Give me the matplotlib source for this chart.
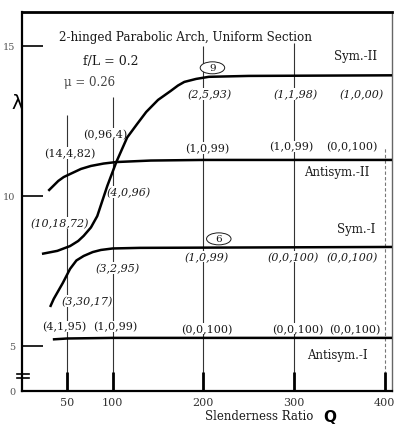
import matplotlib
matplotlib.use('Agg')
from matplotlib import pyplot as plt
from matplotlib.patches import Ellipse

# curves (slenderness ratio vs lambda)
sym2_x = [22, 39, 53, 62, 68, 76, 83, 94, 104, 116, 127, 137, 150, 164, 172, 179, 192, 206, 250, 408]
sym2_y = [8.07, 8.17, 8.33, 8.5, 8.67, 8.95, 9.33, 10.33, 11.13, 11.95, 12.4, 12.8, 13.2, 13.5, 13.68, 13.8, 13.9, 13.97, 14.0, 14.02]

antisym2_x = [29, 35, 40, 46, 53, 65, 76, 90, 104, 142, 200, 408]
antisym2_y = [10.17, 10.35, 10.5, 10.63, 10.73, 10.9, 11.0, 11.08, 11.13, 11.18, 11.2, 11.2]

sym1_x = [31, 35, 45, 53, 60, 68, 78, 87, 100, 130, 408]
sym1_y = [6.3, 6.57, 7.1, 7.57, 7.85, 8.0, 8.13, 8.2, 8.25, 8.27, 8.3]

antisym1_x = [34, 50, 100, 408]
antisym1_y = [5.22, 5.25, 5.27, 5.27]

# vertical reference lines
vline_x = [50, 100, 200, 300]
vline_top = [12.7, 13.3, 15.0, 15.1]

xticks = [50, 100, 200, 300, 400]
yticks = [3.5, 5, 10, 15]
ytick_labels = ['0', '5', '10', '15']

# (x, y, text, italic)
labels = [
    (207, 13.4, '(2,5,93)', True),
    (302, 13.4, '(1,1,98)', True),
    (374, 13.4, '(1,0,00)', True),
    (92, 12.07, '(0,96,4)', False),
    (53, 11.43, '(14,4,82)', False),
    (204, 11.6, '(1,0,99)', False),
    (297, 11.65, '(1,0,99)', False),
    (364, 11.65, '(0,0,100)', False),
    (118, 10.13, '(4,0,96)', True),
    (42, 9.1, '(10,18,72)', True),
    (105, 7.6, '(3,2,95)', True),
    (204, 7.97, '(1,0,99)', True),
    (299, 7.97, '(0,0,100)', True),
    (364, 7.97, '(0,0,100)', True),
    (72, 6.5, '(3,30,17)', True),
    (47, 5.65, '(4,1,95)', False),
    (103, 5.65, '(1,0,99)', False),
    (204, 5.57, '(0,0,100)', False),
    (304, 5.57, '(0,0,100)', False),
    (367, 5.57, '(0,0,100)', False),
]

mode_names = ['Sym.-II', 'Antisym.-II', 'Sym.-I', 'Antisym.-I']
mode_pos = [(368, 14.67), (347, 10.8), (368, 8.9), (348, 4.73)]

ink = '#1a1a1a'
fnt = 'DejaVu Serif'

fig = plt.figure(figsize=(3.94, 4.27), dpi=100)
ax = fig.add_axes([22 / 394, 1 - 392 / 427, 370 / 394, 379 / 427])

ax.vlines(vline_x, 3.5, vline_top, color='#333333', lw=0.8, zorder=1)
ax.vlines([400], 3.5, 11.6, color='#777777', lw=0.8, linestyles=(0, (3, 2)), zorder=1)

for xs, ys in [(sym2_x, sym2_y), (antisym2_x, antisym2_y), (sym1_x, sym1_y), (antisym1_x, antisym1_y)]:
    ax.plot(xs, ys, color='black', lw=1.8, solid_capstyle='butt', solid_joinstyle='round', zorder=5)

for x, y, t, it in labels:
    ax.text(x, y, t, ha='center', va='center', fontsize=8, family=fnt, color=ink,
            style='italic' if it else 'normal', zorder=4,
            bbox=dict(facecolor='white', edgecolor='none', pad=0.3))

for name, (x, y) in zip(mode_names, mode_pos):
    ax.text(x, y, name, ha='center', va='center', fontsize=8.5, family=fnt, color=ink)

ax.text(180, 15.33, '2-hinged Parabolic Arch, Uniform Section', ha='center', va='center',
        fontsize=8.6, family=fnt, color=ink)
ax.text(98, 14.5, 'f/L = 0.2', ha='center', va='center', fontsize=9, family=fnt, color=ink)
ax.text(74, 13.8, 'μ = 0.26', ha='center', va='center', fontsize=8.5, family=fnt, color='#444444')

# circled mode numbers
for (cx, cy), num in [((210, 14.27), '9'), ((217, 8.57), '6')]:
    ax.add_patch(Ellipse((cx, cy), 27, 0.4, facecolor='white', edgecolor=ink, lw=0.7, zorder=6))
    ax.text(cx, cy, num, ha='center', va='center', fontsize=7.5, family=fnt, color=ink, zorder=7)

ax.set_xlim(0, 408)
ax.set_ylim(3.5, 16.13)
ax.set_xticks(xticks)
ax.set_xticklabels([str(v) for v in xticks], family=fnt, fontsize=8, color='#333333')
ax.set_yticks(yticks)
ax.set_yticklabels(ytick_labels, family=fnt, fontsize=7, color='#555555')
ax.tick_params(axis='x', direction='in', length=14, width=2, pad=4)
ax.tick_params(axis='y', direction='in', length=15, width=1.2, pad=5)

ax.spines['left'].set_linewidth(1.6)
ax.spines['bottom'].set_linewidth(1.6)
ax.spines['top'].set_linewidth(2)
ax.spines['right'].set_linewidth(1)
ax.spines['right'].set_color('#666666')

# axis break marks on the lambda axis
tr = ax.get_yaxis_transform()
for yb in [3.93, 4.06]:
    ax.plot([-0.014, 0.019], [yb, yb], transform=tr, color='black', lw=1.2, clip_on=False)

ax.text(-0.013, 0.762, 'λ', transform=ax.transAxes, ha='center', va='center',
        fontsize=14, family='DejaVu Sans')

fig.text(259 / 394, 1 - 417 / 427, 'Slenderness Ratio', ha='center', va='center',
         fontsize=8.5, family=fnt, color=ink)
fig.text(330 / 394, 1 - 418 / 427, 'Q', ha='center', va='center',
         fontsize=11, family='DejaVu Sans', weight='bold')

fig.savefig('out.png', dpi=100)
